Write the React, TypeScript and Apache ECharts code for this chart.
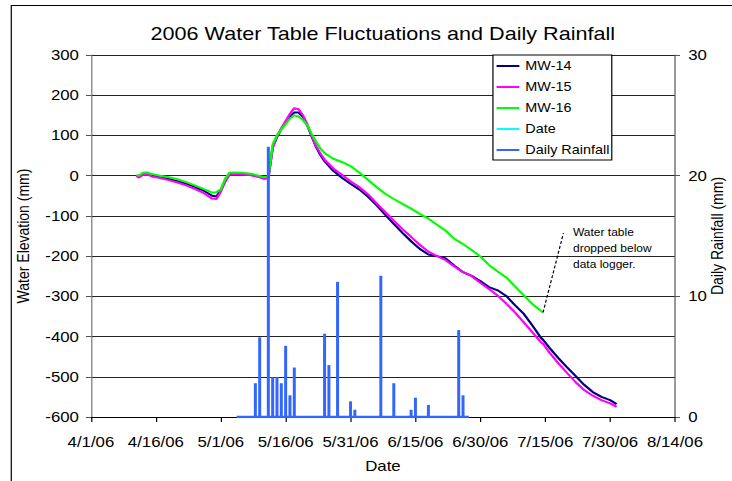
import React, { useEffect, useRef } from "react";
import * as echarts from "echarts";

const FONT = "'Liberation Sans', Arial, Helvetica, sans-serif";
const TITLE = "2006 Water Table Fluctuations and Daily Rainfall";

// x range (dates) and tick step (days)
const X_START = "2006-04-01";
const X_END = "2006-08-14";
const X_TICK_DAYS = 15;

// left axis (mm) and right axis (mm)
const LEFT_RANGE = [-600, 300, 100];
const RIGHT_RANGE = [0, 30, 10];

// Water level records
const DATES = [
  "2006-04-11 12", "2006-04-12", "2006-04-13", "2006-04-14", "2006-04-15", "2006-04-17",
  "2006-04-19", "2006-04-21", "2006-04-23", "2006-04-25", "2006-04-27", "2006-04-29",
  "2006-04-30", "2006-05-01", "2006-05-02", "2006-05-03", "2006-05-04", "2006-05-06",
  "2006-05-08", "2006-05-10", "2006-05-11", "2006-05-12", "2006-05-13", "2006-05-14",
  "2006-05-15", "2006-05-16", "2006-05-17", "2006-05-18", "2006-05-19", "2006-05-20",
  "2006-05-21", "2006-05-22", "2006-05-23", "2006-05-24", "2006-05-25", "2006-05-27",
  "2006-05-29", "2006-05-31", "2006-06-02", "2006-06-04", "2006-06-06", "2006-06-08",
  "2006-06-10", "2006-06-12", "2006-06-14", "2006-06-16", "2006-06-18", "2006-06-20",
  "2006-06-22", "2006-06-24", "2006-06-26", "2006-06-28", "2006-06-30", "2006-07-02",
  "2006-07-04", "2006-07-06", "2006-07-08", "2006-07-10", "2006-07-12", "2006-07-14",
  "2006-07-14 12", "2006-07-16", "2006-07-18", "2006-07-20", "2006-07-22", "2006-07-24",
  "2006-07-26", "2006-07-28", "2006-07-30", "2006-07-31 12",
];
const MW14 = [
  0, -2, 3, 4, 0, -4, -8, -14, -20, -28, -37, -50,
  -52, -36, -14, 4, 6, 4, 2, -3, -7, -6, 70, 96,
  116, 132, 148, 157, 157, 146, 125, 98, 72, 52, 36, 12,
  -5, -20, -34, -52, -73, -97, -120, -142, -163, -182, -196, -200,
  -206, -224, -240, -249, -262, -277, -285, -299, -322, -343, -372, -403,
  -408, -428, -453, -476, -498, -520, -538, -550, -558, -568,
];
const MW15 = [
  0, -5, 2, 3, -2, -6, -11, -17, -24, -33, -43, -57,
  -58, -40, -16, 2, 4, 3, 1, -4, -8, -6, 70, 98,
  118, 136, 154, 168, 165, 150, 128, 100, 74, 56, 40, 18,
  2, -14, -28, -46, -68, -90, -112, -133, -152, -172, -189, -200,
  -210, -226, -240, -250, -266, -282, -298, -318, -340, -364, -389, -414,
  -418, -440, -466, -490, -513, -533, -547, -558, -566, -575,
];
const MW16 = [
  2, 0, 7, 8, 4, 0, -4, -9, -16, -24, -33, -42,
  -41, -34, -8, 7, 8, 7, 5, -1, -4, -2, 78, 100,
  115, 128, 142, 150, 147, 138, 125, 104, 85, 68, 56, 42,
  34, 24, 8, -10, -28, -45, -58, -70, -82, -95, -107, -122,
  -137, -157, -170, -185, -201, -222, -238, -253, -275, -297, -319, -336,
  -340, null, null, null, null, null, null, null, null, null,
];

// Daily rainfall
const RAIN_PERIOD = ["2006-05-05", "2006-06-27"];
const RAIN_DATES = [
  "2006-05-09", "2006-05-10", "2006-05-12", "2006-05-13", "2006-05-14", "2006-05-15",
  "2006-05-16", "2006-05-17", "2006-05-18", "2006-05-25", "2006-05-26", "2006-05-28",
  "2006-05-31", "2006-06-01", "2006-06-07", "2006-06-10", "2006-06-14", "2006-06-15",
  "2006-06-18", "2006-06-25", "2006-06-26",
];
const RAIN_MM = [
  2.8, 6.6, 22.4, 3.3, 3.3, 2.8, 5.9, 1.8, 4.1, 6.9, 4.3, 11.2,
  1.3, 0.6, 11.7, 2.8, 0.6, 1.6, 1.0, 7.2, 1.8,
];

const LEGEND = ["MW-14", "MW-15", "MW-16", "Date", "Daily Rainfall"];
const NOTE_LINES = ["Water table", "dropped below", "data logger."];
const NOTE_ANCHOR: [string, number] = ["2006-07-19 05", -143];

const DAY_MS = 86400000;
function parseUTC(s: string): number {
  const [d, h] = s.split(" ");
  const [y, m, dd] = d.split("-").map(Number);
  return Date.UTC(y, m - 1, dd, h ? Number(h) : 0);
}
const ORIGIN = parseUTC(X_START);
function toDay(s: string): number {
  return (parseUTC(s) - ORIGIN) / DAY_MS;
}
function fmtDay(day: number): string {
  const dt = new Date(ORIGIN + Math.round(day) * DAY_MS);
  const yy = String(dt.getUTCFullYear() % 100).padStart(2, "0");
  return `${dt.getUTCMonth() + 1}/${dt.getUTCDate()}/${yy}`;
}

const SX = 1.2; // horizontal stretch of the original picture

export default function App() {
  const ref = useRef<HTMLDivElement>(null);

  useEffect(() => {
    if (!ref.current) return;
    const chart = echarts.init(ref.current, undefined, { renderer: "svg" });

    const pairs = (vals: (number | null)[]) =>
      DATES.map((d, i) => [toDay(d), vals[i]]).filter((p) => p[1] !== null);
    const mw16 = pairs(MW16);
    const last16 = mw16[mw16.length - 1];

    const tickLabel = { fontSize: 14, color: "#000", fontFamily: FONT };
    const nameStyle = { fontSize: 14, color: "#000", fontFamily: FONT };

    const option: any = {
      animation: false,
      backgroundColor: "#fff",
      textStyle: { fontFamily: FONT },
      title: {
        text: TITLE,
        left: 314,
        top: 20,
        textAlign: "center",
        textStyle: { fontSize: 18, fontWeight: "normal", color: "#000", fontFamily: FONT },
      },
      legend: {
        orient: "vertical",
        left: 410.8,
        top: 55,
        padding: [4, 2, 3, 3],
        itemGap: 7,
        itemWidth: 19,
        itemHeight: 2,
        icon: "rect",
        backgroundColor: "#fff",
        borderColor: "#000",
        borderWidth: 1,
        borderRadius: 0,
        textStyle: { fontSize: 12, color: "#000", lineHeight: 14, fontFamily: FONT },
        data: LEGEND,
      },
      grid: {
        left: 75.8,
        right: 47.5,
        top: 55,
        bottom: 64,
        containLabel: false,
        outerBoundsMode: "none",
      },
      xAxis: {
        type: "value",
        min: 0,
        max: toDay(X_END),
        interval: X_TICK_DAYS,
        name: "Date",
        nameLocation: "middle",
        nameGap: 42,
        nameMoveOverlap: false,
        nameTextStyle: nameStyle,
        axisLine: { show: true, onZero: false, lineStyle: { color: "#000", width: 1 } },
        axisTick: { show: true, length: 5, lineStyle: { color: "#000" } },
        axisLabel: { ...tickLabel, margin: 18, formatter: (v: number) => fmtDay(v) },
        splitLine: { show: false },
      },
      yAxis: [
        {
          type: "value",
          position: "left",
          min: LEFT_RANGE[0],
          max: LEFT_RANGE[1],
          interval: LEFT_RANGE[2],
          name: "Water Elevation (mm)",
          nameLocation: "middle",
          nameRotate: 90,
          nameGap: 50,
          nameMoveOverlap: false,
          nameTextStyle: nameStyle,
          axisLine: { show: true, onZero: false, lineStyle: { color: "#777", width: 1 } },
          axisTick: { show: true, length: 4.2, lineStyle: { color: "#555" } },
          axisLabel: { ...tickLabel, margin: 10 },
          splitLine: { show: true, lineStyle: { color: "#222", width: 1 } },
        },
        {
          type: "value",
          position: "right",
          min: RIGHT_RANGE[0],
          max: RIGHT_RANGE[1],
          interval: RIGHT_RANGE[2],
          name: "Daily Rainfall (mm)",
          nameLocation: "middle",
          nameRotate: 90,
          nameGap: 28,
          nameMoveOverlap: false,
          nameTextStyle: nameStyle,
          axisLine: { show: true, onZero: false, lineStyle: { color: "#555", width: 1 } },
          axisTick: { show: true, length: 4.2, lineStyle: { color: "#555" } },
          axisLabel: { ...tickLabel, margin: 11 },
          splitLine: { show: false },
        },
      ],
      series: [
        {
          name: "MW-14",
          type: "line",
          yAxisIndex: 0,
          data: pairs(MW14),
          showSymbol: false,
          symbol: "none",
          color: "#000080",
          lineStyle: { width: 2, color: "#000080" },
          z: 2,
        },
        {
          name: "MW-15",
          type: "line",
          yAxisIndex: 0,
          data: pairs(MW15),
          showSymbol: false,
          symbol: "none",
          color: "#FF00FF",
          lineStyle: { width: 2, color: "#FF00FF" },
          z: 2,
        },
        {
          name: "MW-16",
          type: "line",
          yAxisIndex: 0,
          data: mw16,
          showSymbol: false,
          symbol: "none",
          color: "#00FF00",
          lineStyle: { width: 2, color: "#00FF00" },
          z: 2,
          markLine: {
            silent: true,
            symbol: ["none", "none"],
            label: { show: false },
            lineStyle: { color: "#000", width: 1, type: [3, 2] },
            data: [[{ coord: last16 }, { coord: [toDay(NOTE_ANCHOR[0]), NOTE_ANCHOR[1]] }]],
          },
        },
        {
          name: "Date",
          type: "line",
          yAxisIndex: 0,
          data: [],
          color: "#00FFFF",
          showSymbol: false,
          lineStyle: { width: 1, color: "#00FFFF" },
        },
        {
          name: "Rain record",
          type: "line",
          yAxisIndex: 1,
          data: RAIN_PERIOD.map((d) => [toDay(d), 0]),
          showSymbol: false,
          symbol: "none",
          color: "#3366FF",
          lineStyle: { width: 2.5, color: "#3366FF", cap: "square" },
          z: 3,
        },
        {
          name: "Daily Rainfall",
          type: "bar",
          yAxisIndex: 1,
          barWidth: 2.5,
          data: RAIN_DATES.map((d, i) => [toDay(d), RAIN_MM[i]]),
          color: "#3366FF",
          itemStyle: { color: "#3366FF" },
          z: 3,
        },
      ],
      graphic: [
        {
          type: "rect",
          silent: true,
          shape: { x: 9.4, y: 5.5, width: 800, height: 600 },
          style: { fill: "none", stroke: "#000", lineWidth: 1 },
          z: 0,
        },
        {
          type: "text",
          silent: true,
          x: 477.5,
          y: 224,
          style: {
            text: NOTE_LINES.join("\n"),
            fontSize: 10,
            lineHeight: 16,
            fontFamily: FONT,
            fill: "#000",
          },
        },
      ],
    };

    chart.setOption(option);
    return () => chart.dispose();
  }, []);

  return (
    <div
      style={{
        position: "fixed",
        left: 0,
        top: 0,
        width: 732,
        height: 481,
        overflow: "hidden",
        background: "#fff",
      }}
    >
      <div
        ref={ref}
        style={{
          width: 732 / SX,
          height: 481,
          transform: `scaleX(${SX})`,
          transformOrigin: "0 0",
        }}
      />
    </div>
  );
}
